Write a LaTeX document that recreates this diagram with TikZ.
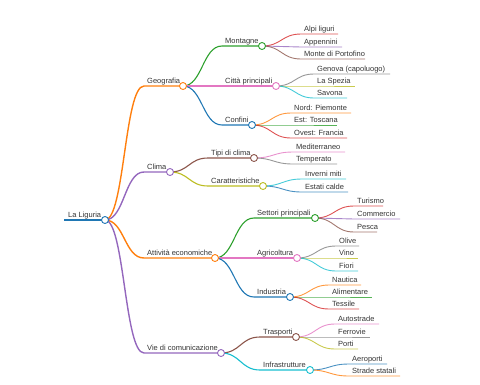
\documentclass[tikz,border=0pt]{standalone}
\usepackage{fontspec}
\setmainfont{Liberation Sans}
\usetikzlibrary{calc}
% palette a 10 colori
\definecolor{c0}{HTML}{1F77B4}
\definecolor{c1}{HTML}{FF7F0E}
\definecolor{c2}{HTML}{2CA02C}
\definecolor{c3}{HTML}{D62728}
\definecolor{c4}{HTML}{9467BD}
\definecolor{c5}{HTML}{8C564B}
\definecolor{c6}{HTML}{E377C2}
\definecolor{c7}{HTML}{7F7F7F}
\definecolor{c8}{HTML}{BCBD22}
\definecolor{c9}{HTML}{17BECF}
\begin{document}
\begin{tikzpicture}[x=1pt,y=-1pt,
    d1/.style={line width=1.4pt},
    d2/.style={line width=1.1pt},
    d3/.style={line width=0.9pt,draw opacity=0.8},
    dot/.style={circle,draw,fill=white,line width=0.9pt,inner sep=0pt,minimum size=7pt},
    lbl/.style={anchor=base west,inner sep=0pt,font=\fontsize{7.5}{9}\selectfont,text=black!80}]
  \useasboundingbox (0,0) rectangle (480,384);
  % radice
  \coordinate (root-s) at (64,220);
  \coordinate (root) at (105,220);
  \draw[c0,line width=1.8pt] (root-s) -- (root);
  \node[lbl] (root-t) at ([xshift=4pt,yshift=2.5pt]root-s) {La Liguria};
  % rami e foglie: nome/padre/x inizio/y linea/x fine/colore/livello/testo
  \foreach \nm/\up/\xs/\yl/\xe/\col/\dep/\txt in {
      geo/root/144/86/183/c1/d1/Geografia,
      clima/root/144/172/170/c4/d1/Clima,
      att/root/144/258/215/c1/d1/Attività economiche,
      vie/root/144/353/221/c4/d1/Vie di comunicazione,
      mont/geo/222/46/262/c2/d2/Montagne,
      citta/geo/222/86/276/c6/d2/Città principali,
      conf/geo/222/125/252/c0/d2/Confini,
      tipi/clima/208/158/254/c5/d2/Tipi di clima,
      car/clima/208/186/263/c8/d2/Caratteristiche,
      sett/att/254/218/315/c2/d2/Settori principali,
      agr/att/254/258/297/c6/d2/Agricoltura,
      ind/att/254/297/290/c0/d2/Industria,
      tras/vie/260/337/296/c5/d2/Trasporti,
      infra/vie/260/370/310/c9/d2/Infrastrutture,
      alpi/mont/301/34/338/c3/d3/Alpi liguri,
      app/mont/301/47/342/c4/d3/Appennini,
      port/mont/301/59/365/c5/d3/Monte di Portofino,
      gen/citta/314/74/390/c7/d3/Genova (capoluogo),
      spez/citta/314/86/355/c8/d3/La Spezia,
      sav/citta/314/98/347/c9/d3/Savona,
      nord/conf/291/113/351/c1/d3/Nord: Piemonte,
      est/conf/291/125/337/c2/d3/Est: Toscana,
      ovest/conf/291/138/347/c3/d3/Ovest: Francia,
      medit/tipi/293/152/345/c6/d3/Mediterraneo,
      temp/tipi/293/164/337/c7/d3/Temperato,
      inv/car/302/179/346/c9/d3/Inverni miti,
      est2/car/302/192/348/c0/d3/Estati calde,
      tur/sett/354/206/383/c3/d3/Turismo,
      comm/sett/354/219/400/c4/d3/Commercio,
      pesca/sett/354/232/377/c5/d3/Pesca,
      olive/agr/336/246/359/c7/d3/Olive,
      vino/agr/336/258/358/c8/d3/Vino,
      fiori/agr/336/271/358/c9/d3/Fiori,
      naut/ind/329/285/361/c1/d3/Nautica,
      alim/ind/329/297/372/c2/d3/Alimentare,
      tess/ind/329/309/359/c3/d3/Tessile,
      auto/tras/335/324/379/c6/d3/Autostrade,
      ferr/tras/335/337/370/c7/d3/Ferrovie,
      porti/tras/335/349/358/c8/d3/Porti,
      aero/infra/349/364/387/c0/d3/Aeroporti,
      strade/infra/349/376/400/c1/d3/Strade statali}{
    \coordinate (\nm-s) at (\xs,\yl);
    \coordinate (\nm) at (\xe,\yl);
    \draw[\col,\dep] let \p1=(\up), \p2=(\nm-s), \p3=($(\p1)!0.5!(\p2)$) in
      (\p1) .. controls (\x3,\y1) and (\x3,\y2) .. (\p2) -- (\nm);
    \node[lbl] (\nm-t) at ([xshift=3pt,yshift=2.5pt]\nm-s) {\txt};
  }
  % cerchi sopra i collegamenti
  \foreach \nm/\col in {root/c0,geo/c1,clima/c4,att/c1,vie/c4,mont/c2,citta/c6,
      conf/c0,tipi/c5,car/c8,sett/c2,agr/c6,ind/c0,tras/c5,infra/c9}
    \node[dot,draw=\col] (\nm-c) at (\nm) {};
\end{tikzpicture}
\end{document}
